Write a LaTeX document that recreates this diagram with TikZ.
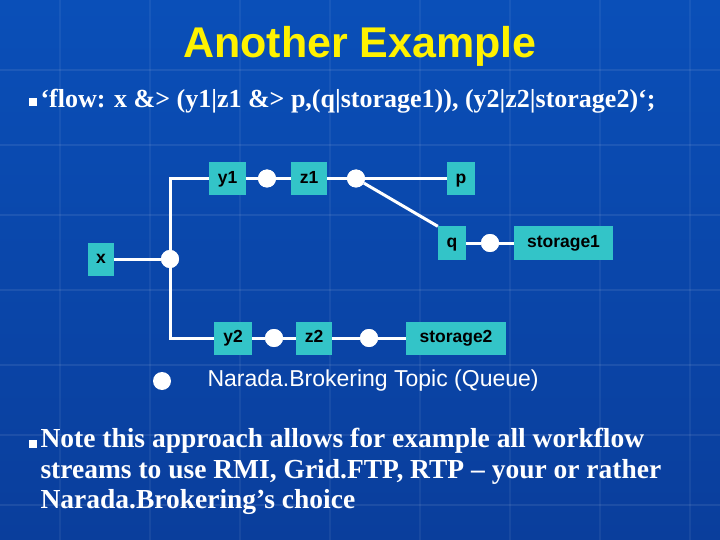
\documentclass[tikz,border=0pt]{standalone}
\usepackage{fontspec}
\setmainfont{Liberation Serif}
\newfontfamily\arial{Liberation Sans}
\begin{document}
\begin{tikzpicture}[x=1pt,y=-1pt,
  box/.style={fill=boxc,inner sep=0pt,minimum height=33pt,text height=12.5pt,text depth=3pt,font=\arial\bfseries\fontsize{17.5}{20}\selectfont,text=black},
  dot/.style={circle,fill=white,inner sep=0pt,minimum size=18pt},
  wire/.style={draw=white,line width=3pt},
  bul/.style={fill=white,minimum size=8pt,inner sep=0pt}]
\definecolor{boxc}{HTML}{33C4C8}
\definecolor{bgtop}{HTML}{0A4FB8}
\definecolor{bgbot}{HTML}{0A3E9C}
\shade[top color=bgtop,bottom color=bgbot] (0,0) rectangle (720,540);
\useasboundingbox (0,0) rectangle (720,540);
\foreach \yy in {70,145,215,290,365,435,505} \draw[white,opacity=0.08,line width=1.5pt] (0,\yy) -- (720,\yy);
\foreach \xx in {60,150,240,330,420,510,600,690} \draw[white,opacity=0.06,line width=1.5pt] (\xx,0) -- (\xx,540);
\node[text=yellow,font=\arial\bfseries\fontsize{43}{46}\selectfont] (title) at (360,46) {Another Example};
\node[bul] (b1) at (33,102) {};
\node[anchor=west,text=white,font=\bfseries\fontsize{26}{30}\selectfont] (t1) at (37,101) {`flow: x \&> (y1|z1 \&> p,(q|storage1)), (y2|z2|storage2)`;};
% nodes
\node[box,minimum width=26pt] (x) at (101,259) {x};
\node[dot] (j0) at (170,259) {};
\node[box,minimum width=37pt] (y1) at (227.5,178.5) {y1};
\node[dot] (c1) at (267,178.5) {};
\node[box,minimum width=36pt] (z1) at (309,178.5) {z1};
\node[dot] (c2) at (356,178.5) {};
\node[box,minimum width=28pt] (p) at (461,178.5) {p};
\node[box,minimum width=28pt] (q) at (452,243) {q};
\node[dot] (c3) at (490,243) {};
\node[box,minimum width=99pt] (s1) at (563.5,243) {storage1};
\node[box,minimum width=38pt] (y2) at (233,338) {y2};
\node[dot] (c4) at (274,338) {};
\node[box,minimum width=36pt] (z2) at (314,338) {z2};
\node[dot] (c5) at (369,338) {};
\node[box,minimum width=100pt] (s2) at (456,338) {storage2};
\coordinate (tl) at (170,178.5);
\coordinate (bl) at (170,338);
\draw[wire] (x) -- (j0);
\draw[wire] (y1.west) -- (tl) -- (bl) -- (y2.west);
\draw[wire] (y1) -- (c1) -- (z1) -- (c2) -- (p);
\draw[wire] (c2) -- (q.north west);
\draw[wire] (q) -- (c3) -- (s1);
\draw[wire] (y2) -- (c4) -- (z2) -- (c5) -- (s2);
\foreach \p in {{170,259},{267,178.5},{356,178.5},{490,243},{274,338},{369,338}} \fill[white] (\p) circle (9pt);
\node[dot] (leg) at (162,381) {};
\node[anchor=west,text=white,font=\arial\fontsize{23}{26}\selectfont] (legt) at (204,381) {Narada.Brokering Topic (Queue)};
\node[bul] (b2) at (33,444) {};
\node[anchor=north west,align=left,text=white,font=\bfseries\fontsize{27.5}{30.5}\selectfont] (t2) at (37,425) {Note this approach allows for example all workflow\\streams to use RMI, Grid.FTP, RTP -- your or rather\\Narada.Brokering’s choice};
\end{tikzpicture}
\end{document}
